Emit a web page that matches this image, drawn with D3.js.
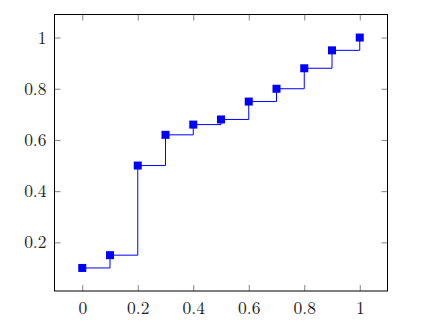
<!DOCTYPE html>
<html>
<head>
<meta charset="utf-8">
<script src="https://cdn.jsdelivr.net/npm/d3@7"></script>
<style>
  html, body { margin: 0; padding: 0; background: #fff; }
  svg { display: block; }
</style>
</head>
<body>
<div id="chart"></div>
<script>
// data points (step plot, jump at the new x)
const xValues = [0, 0.1, 0.2, 0.3, 0.4, 0.5, 0.6, 0.7, 0.8, 0.9, 1];
const yValues = [0.1, 0.15, 0.5, 0.62, 0.66, 0.68, 0.75, 0.8, 0.88, 0.95, 1];
const xTicks = [0, 0.2, 0.4, 0.6, 0.8, 1];
const yTicks = [0.2, 0.4, 0.6, 0.8, 1];

const width = 429, height = 333;
const margins = { left: 54.5, right: 41.5, top: 14.5, bottom: 42 };

const points = xValues.map((x, i) => ({ x, y: yValues[i] }));

const svg = d3.select("#chart").append("svg")
    .attr("width", width)
    .attr("height", height);

const x = d3.scaleLinear()
    .domain([-0.1, 1.1])
    .range([margins.left, width - margins.right]);

const y = d3.scaleLinear()
    .domain([0.01, 1.09])
    .range([height - margins.bottom, margins.top]);

const fmt = d => d3.format("")(+d.toFixed(1));
const tickLen = 6;
const font = "'Latin Modern Roman', 'Liberation Serif', serif";

// inward ticks on all four sides
const tickStyle = g => {
    g.select(".domain").remove();
    g.selectAll(".tick line").attr("stroke", "#666").attr("stroke-width", 0.8);
    g.selectAll(".tick text").attr("fill", "#222").attr("font-family", font).attr("font-size", 17.5);
};

svg.append("g")
    .attr("transform", `translate(0,${height - margins.bottom})`)
    .call(d3.axisBottom(x).tickValues(xTicks).tickSize(-tickLen).tickPadding(11).tickFormat(fmt))
    .call(tickStyle);

svg.append("g")
    .attr("transform", `translate(0,${margins.top})`)
    .call(d3.axisTop(x).tickValues(xTicks).tickSize(-tickLen).tickFormat(""))
    .call(tickStyle);

svg.append("g")
    .attr("transform", `translate(${margins.left},0)`)
    .call(d3.axisLeft(y).tickValues(yTicks).tickSize(-tickLen).tickPadding(8).tickFormat(fmt))
    .call(tickStyle);

svg.append("g")
    .attr("transform", `translate(${width - margins.right},0)`)
    .call(d3.axisRight(y).tickValues(yTicks).tickSize(-tickLen).tickFormat(""))
    .call(tickStyle);

// step line
const line = d3.line()
    .x(d => x(d.x))
    .y(d => y(d.y))
    .curve(d3.curveStepAfter);

svg.append("path")
    .datum(points)
    .attr("fill", "none")
    .attr("stroke", "#0000ff")
    .attr("stroke-width", 1)
    .attr("d", line);

// square markers
const ms = 8;
svg.append("g")
    .selectAll("rect")
    .data(points)
    .join("rect")
    .attr("x", d => x(d.x) - ms / 2)
    .attr("y", d => y(d.y) - ms / 2)
    .attr("width", ms)
    .attr("height", ms)
    .attr("fill", "#0000ff");

// axis frame
svg.append("rect")
    .attr("x", margins.left)
    .attr("y", margins.top)
    .attr("width", width - margins.left - margins.right)
    .attr("height", height - margins.top - margins.bottom)
    .attr("fill", "none")
    .attr("stroke", "#000")
    .attr("stroke-width", 1);
</script>
</body>
</html>
